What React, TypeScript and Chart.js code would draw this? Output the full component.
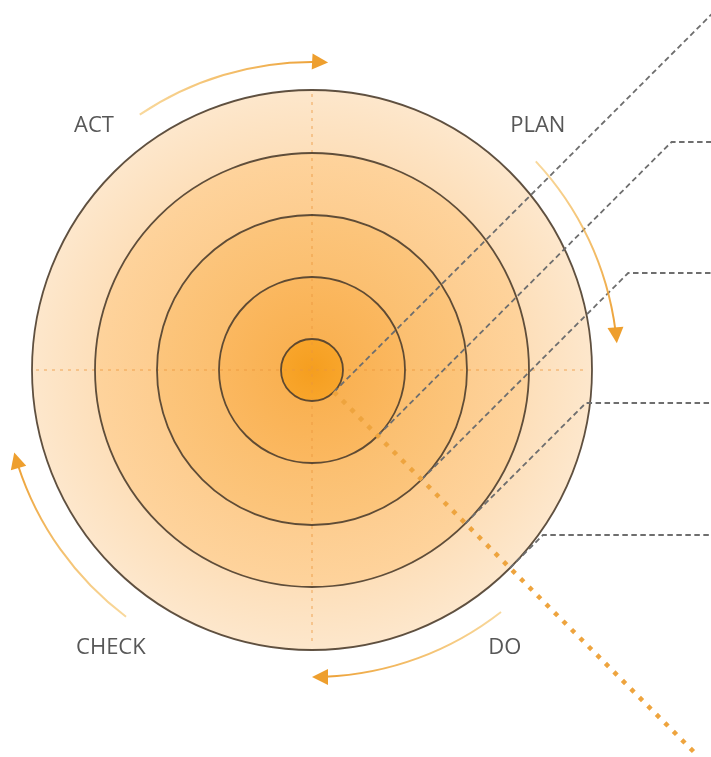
import React, { useEffect, useRef } from "react";
import { Chart, registerables } from "chart.js";

Chart.register(...registerables);

// concentric rings (data units on the radial scale), inner to outer
const ringRadii = [31, 93, 155, 217, 280];
const ringInnerColors = ["#f59e1f", "#f9b152", "#fbbf70", "#fdcd90", "#fddfba"];
const ringOuterColors = ["#f8a52b", "#fbb860", "#fcc57c", "#fed39c", "#fde7cc"];
const scaleMin = 0;
const scaleMax = 280;

// cycle stage labels (polar position: angle in degrees clockwise from east, radius in scale units)
const stageLabels = ["ACT", "PLAN", "DO", "CHECK"];
const labelAngles = [-131.8, -47.3, 55.2, 125.9];
const labelRadii = [327, 333, 338, 343];

// curved arrows between stages
const arrowStartAngles = [-124, -43, 52, 127];
const arrowEndAngles = [-87, -5, 90, 164.5];
const arrowRadii = [308, 306, 307, 309];

// dashed leader lines: tangent ring, and level of horizontal leg (scale units above centre)
const connectorRings = [31, 93, 155, 217, 280];
const connectorLevels: (number | null)[] = [null, 228, 97, -33, -165];

// guide lines
const crossExtent = 276;
const pathStart = 31;
const pathEnd = 541;

export default function App() {
  const canvasRef = useRef<HTMLCanvasElement | null>(null);

  useEffect(() => {
    const canvas = canvasRef.current;
    if (!canvas) return;

    const polar = (sc: any, angleDeg: number, v: number) => {
      const d = sc.getDistanceFromCenterForValue(v);
      const a = (angleDeg * Math.PI) / 180;
      return [sc.xCenter + d * Math.cos(a), sc.yCenter + d * Math.sin(a)];
    };

    const crossPlugin = {
      id: "crossGuides",
      afterDatasetsDraw(chart: any) {
        const sc = chart.scales.r;
        const ctx = chart.ctx;
        ctx.save();
        ctx.strokeStyle = "rgba(236,150,60,0.4)";
        ctx.lineWidth = 2;
        ctx.setLineDash([3, 5]);
        const [x1, y1] = polar(sc, -90, crossExtent);
        const [x2, y2] = polar(sc, 90, crossExtent);
        ctx.beginPath();
        ctx.moveTo(x1, y1);
        ctx.lineTo(x2, y2);
        ctx.stroke();
        const [x3, y3] = polar(sc, 180, crossExtent);
        const [x4, y4] = polar(sc, 0, crossExtent);
        ctx.beginPath();
        ctx.moveTo(x3, y3);
        ctx.lineTo(x4, y4);
        ctx.stroke();
        ctx.restore();
      },
    };

    const overlayPlugin = {
      id: "overlay",
      afterDraw(chart: any) {
        const sc = chart.scales.r;
        const ctx = chart.ctx;
        const W = chart.width;
        ctx.save();

        // dashed leader lines
        ctx.strokeStyle = "#6e6e6e";
        ctx.lineWidth = 1.8;
        ctx.setLineDash([5.5, 3.5]);
        connectorRings.forEach((r, i) => {
          const [tx, ty] = polar(sc, 45, r);
          const lvl = connectorLevels[i];
          ctx.beginPath();
          ctx.moveTo(tx, ty);
          if (lvl === null) {
            const t = ty + 20;
            ctx.lineTo(tx + t, ty - t);
          } else {
            const yT = sc.yCenter - sc.getDistanceFromCenterForValue(lvl);
            const t = ty - yT;
            ctx.lineTo(tx + t, yT);
            ctx.lineTo(W + 5, yT);
          }
          ctx.stroke();
        });

        // thick orange dotted path
        ctx.strokeStyle = "#eea43e";
        ctx.lineWidth = 4.5;
        ctx.setLineDash([4.5, 7.5]);
        const [px1, py1] = polar(sc, 45, pathStart);
        const [px2, py2] = polar(sc, 45, pathEnd);
        ctx.beginPath();
        ctx.moveTo(px1, py1);
        ctx.lineTo(px2, py2);
        ctx.stroke();
        ctx.setLineDash([]);

        // curved arrows
        arrowRadii.forEach((R, i) => {
          const d = sc.getDistanceFromCenterForValue(R);
          const a0 = (arrowStartAngles[i] * Math.PI) / 180;
          const e = (arrowEndAngles[i] * Math.PI) / 180;
          const headLen = 16;
          const headHalf = 8;
          const aEnd = e - headLen / d;
          const [sx, sy] = polar(sc, arrowStartAngles[i], R);
          const tipX = sc.xCenter + d * Math.cos(e);
          const tipY = sc.yCenter + d * Math.sin(e);
          const g = ctx.createLinearGradient(sx, sy, tipX, tipY);
          g.addColorStop(0, "rgba(244,190,90,0.6)");
          g.addColorStop(1, "#ec9d30");
          ctx.strokeStyle = g;
          ctx.lineWidth = 2;
          ctx.beginPath();
          ctx.arc(sc.xCenter, sc.yCenter, d, a0, aEnd + 0.01, false);
          ctx.stroke();
          const dx = -Math.sin(e);
          const dy = Math.cos(e);
          const nx = Math.cos(e);
          const ny = Math.sin(e);
          const bx = tipX - headLen * dx;
          const by = tipY - headLen * dy;
          ctx.fillStyle = "#ee9f2e";
          ctx.beginPath();
          ctx.moveTo(tipX, tipY);
          ctx.lineTo(bx + headHalf * nx, by + headHalf * ny);
          ctx.lineTo(bx - headHalf * nx, by - headHalf * ny);
          ctx.closePath();
          ctx.fill();
        });

        // stage labels
        ctx.fillStyle = "#575757";
        ctx.font = '22px "Open Sans", "Noto Sans", sans-serif';
        ctx.textAlign = "center";
        ctx.textBaseline = "middle";
        stageLabels.forEach((lab, i) => {
          const [lx, ly] = polar(sc, labelAngles[i], labelRadii[i]);
          ctx.fillText(lab, lx, ly);
        });

        ctx.restore();
      },
    };

    const datasets = ringRadii.map((r, i) => ({
      label: "ring" + i,
      data: [r],
      borderWidth: 0,
      backgroundColor: (c: any) => {
        const chart = c.chart;
        const sc = chart.scales && chart.scales.r;
        if (!sc || sc.xCenter == null || !isFinite(sc.drawingArea)) return ringOuterColors[i];
        const rIn = i === 0 ? 0 : sc.getDistanceFromCenterForValue(ringRadii[i - 1]);
        const rOut = sc.getDistanceFromCenterForValue(r);
        const g = chart.ctx.createRadialGradient(sc.xCenter, sc.yCenter, rIn, sc.xCenter, sc.yCenter, rOut);
        g.addColorStop(0, ringInnerColors[i]);
        g.addColorStop(1, ringOuterColors[i]);
        return g;
      },
    }));

    const chart = new Chart(canvas, {
      type: "polarArea",
      data: { labels: ["PDCA"], datasets },
      options: {
        responsive: false,
        animation: false,
        layout: { padding: { left: 32, top: 90, right: 119, bottom: 107 } },
        plugins: { legend: { display: false }, tooltip: { enabled: false } },
        scales: {
          r: {
            min: scaleMin,
            max: scaleMax,
            ticks: { display: false },
            pointLabels: { display: false },
            angleLines: { display: false },
            grid: { circular: true, color: "rgba(78,62,46,0.9)", lineWidth: 1.8, z: 1 },
            afterBuildTicks: (scale: any) => {
              scale.ticks = [0, ...ringRadii].map((v) => ({ value: v }));
            },
          },
        },
      } as any,
      plugins: [crossPlugin, overlayPlugin],
    });

    return () => chart.destroy();
  }, []);

  return (
    <div style={{ position: "absolute", left: 0, top: 0, width: 711, height: 757, background: "#fff" }}>
      <canvas ref={canvasRef} width={711} height={757} style={{ display: "block" }} />
    </div>
  );
}
